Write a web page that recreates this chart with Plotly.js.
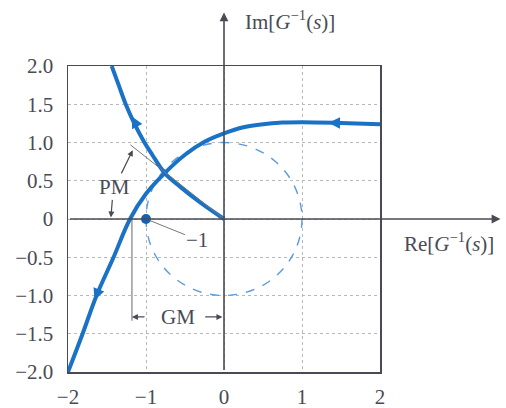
<!DOCTYPE html>
<html>
<head>
<meta charset="utf-8">
<script src="https://cdn.plot.ly/plotly-3.0.1.min.js"></script>
<style>
  html, body { margin: 0; padding: 0; background: #fff; }
  #plot { width: 506px; height: 408px; }
</style>
</head>
<body>
<div id="plot"></div>
<script>
// curve from the origin out to the top edge
const loopX = [0, -0.31, -0.56, -0.76, -0.92, -1.02, -1.15, -1.26, -1.35, -1.44];
const loopY = [0, 0.22, 0.42, 0.60, 0.84, 1.0, 1.25, 1.5, 1.75, 2.0];

// curve from the lower left corner out to the right edge
const mainX = [-2.0, -1.82, -1.63, -1.42, -1.205, -1.0, -0.76, -0.5, -0.25, 0, 0.25, 0.5, 0.75, 1.0, 1.5, 2.0];
const mainY = [-2.0, -1.52, -0.99, -0.51, 0.0, 0.33, 0.60, 0.84, 1.01, 1.12, 1.2, 1.24, 1.26, 1.265, 1.255, 1.24];

const critX = [-1];
const critY = [0];

const unitRadius = 1;
const pmPoint = [-1.2, 0.97];
const gmX = -1.18;
const gmY = -1.28;

const xTicks = [-2, -1, 0, 1, 2];
const xTickText = ["\u22122", "\u22121", "0", "1", "2"];
const yTicks = [-2, -1.5, -1, -0.5, 0, 0.5, 1, 1.5, 2];
const yTickText = ["\u22122.0", "\u22121.5", "\u22121.0", "\u22120.5", "0", "0.5", "1.0", "1.5", "2.0"];

const blue = "#1a72c6";
const ink = "#4a4a55";
const serif = "Liberation Serif, Times New Roman, serif";
const fs = 21;

const data = [
    {
        x: mainX, y: mainY,
        mode: "lines",
        line: { color: blue, width: 4, shape: "spline" },
        hoverinfo: "skip"
    },
    {
        x: loopX, y: loopY,
        mode: "lines",
        line: { color: blue, width: 4, shape: "spline" },
        hoverinfo: "skip"
    },
    {
        x: critX, y: critY,
        mode: "markers",
        marker: { color: "#1560b0", size: 10 },
        hoverinfo: "skip"
    }
];

// little arrow helper, tail and head in data units
const arrow = (hx, hy, tx, ty, color, width, size) => ({
    x: hx, y: hy, ax: tx, ay: ty,
    xref: "x", yref: "y", axref: "x", ayref: "y",
    text: "", showarrow: true,
    arrowhead: 2, arrowsize: size, arrowwidth: width, arrowcolor: color
});

const annotations = [
    // axes running past the frame
    { x: 0, y: 1.175, xref: "x", yref: "paper", ax: 0, ay: 359, text: "",
      showarrow: true, arrowhead: 2, arrowsize: 1.1, arrowwidth: 1.6, arrowcolor: ink },
    { x: 1.386, y: 0, xref: "paper", yref: "y", ax: -432, ay: 0, text: "",
      showarrow: true, arrowhead: 2, arrowsize: 1.1, arrowwidth: 1.6, arrowcolor: ink },
    { x: 0.24, y: 1.15, xref: "x", yref: "paper", xanchor: "left", yanchor: "middle",
      text: "Im[<i>G</i><sup>\u22121</sup>(<i>s</i>)]", showarrow: false,
      font: { family: serif, size: fs, color: ink } },
    { x: 1.072, y: -0.31, xref: "paper", yref: "y", xanchor: "left", yanchor: "middle",
      text: "Re[<i>G</i><sup>\u22121</sup>(<i>s</i>)]", showarrow: false,
      font: { family: serif, size: fs, color: ink } },
    // direction arrows on the curves
    arrow(-1.18, 1.34, -1.12, 1.22, blue, 2, 1.15),
    arrow(-1.66, -1.06, -1.62, -0.96, blue, 2, 1.15),
    arrow(1.34, 1.257, 1.5, 1.255, blue, 2, 1.15),
    // PM
    { x: -1.17, y: 0.9, ax: -1.4, ay: 0.42, xref: "x", yref: "y", axref: "x", ayref: "y",
      text: "PM", showarrow: true, arrowhead: 2, arrowsize: 1, arrowwidth: 1.2, arrowcolor: ink,
      font: { family: serif, size: fs, color: ink } },
    arrow(-1.45, 0.02, -1.43, 0.27, ink, 1.2, 1),
    // -1 label
    { x: -1, y: 0, ax: -0.34, ay: -0.27, xref: "x", yref: "y", axref: "x", ayref: "y",
      text: "\u22121", showarrow: true, arrowhead: 0, arrowwidth: 1, arrowcolor: "#777",
      standoff: 4, font: { family: serif, size: fs, color: ink } },
    // GM
    { x: -0.59, y: gmY, xref: "x", yref: "y", text: "GM", showarrow: false,
      font: { family: serif, size: fs, color: ink } },
    arrow(gmX, gmY, -1.0, gmY, ink, 1.2, 1),
    arrow(-0.02, gmY, -0.26, gmY, ink, 1.2, 1)
];

const shapes = [
    { type: "circle", xref: "x", yref: "y", layer: "between",
      x0: -unitRadius, x1: unitRadius, y0: -unitRadius, y1: unitRadius,
      line: { color: "#5a9be0", width: 1.4, dash: "dash" } },
    { type: "line", xref: "x", yref: "y", x0: 0, y0: 0, x1: pmPoint[0], y1: pmPoint[1],
      line: { color: "#777", width: 1 } },
    { type: "line", xref: "x", yref: "y", x0: gmX, y0: 0, x1: gmX, y1: gmY - 0.05,
      line: { color: "#666", width: 1 } }
];

const layout = {
    width: 506,
    height: 408,
    margin: { l: 68, r: 126, t: 66, b: 36 },
    paper_bgcolor: "#fff",
    plot_bgcolor: "#fff",
    showlegend: false,
    font: { family: serif, size: fs, color: ink },
    xaxis: {
        range: [-2, 2],
        tickvals: xTicks,
        ticktext: xTickText,
        ticks: "",
        ticklabelstandoff: 5,
        showgrid: true,
        gridcolor: "#b8b8b8",
        griddash: "dot",
        gridwidth: 1,
        zeroline: false,
        showline: true,
        mirror: true,
        linecolor: ink,
        linewidth: 1.5,
        fixedrange: true
    },
    yaxis: {
        range: [-2, 2],
        tickvals: yTicks,
        ticktext: yTickText,
        ticks: "",
        ticklabelstandoff: 9,
        showgrid: true,
        gridcolor: "#b8b8b8",
        griddash: "dot",
        gridwidth: 1,
        zeroline: false,
        showline: true,
        mirror: true,
        linecolor: ink,
        linewidth: 1.5,
        fixedrange: true
    },
    annotations: annotations,
    shapes: shapes
};

Plotly.newPlot("plot", data, layout, { displayModeBar: false, staticPlot: true });
</script>
</body>
</html>
